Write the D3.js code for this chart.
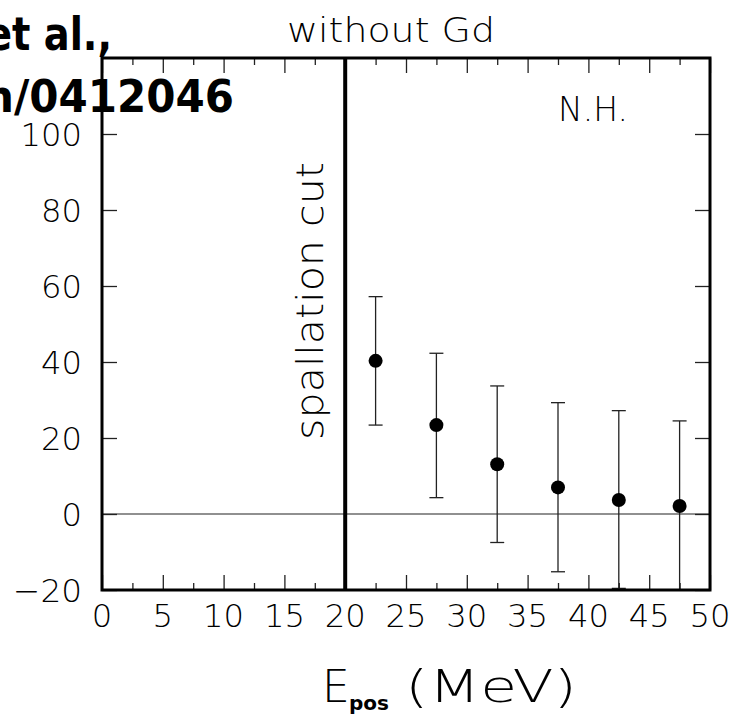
<!doctype html>
<html lang="">
<head>
  <meta charset="utf-8">
  <title>without Gd</title>
  <script src="https://d3js.org/d3.v7.min.js"></script>
  <style>
    body { margin: 0; background: #fff; }
    text { font-family: "DejaVu Sans", sans-serif; fill: #000; }
    .tick-label { font-size: 32px; font-weight: 200; }
  </style>
</head>
<body>
<div id="my_dataviz"></div>
<script>
  // data
  var energies = [22.5, 27.5, 32.5, 37.5, 42.5, 47.5];
  var values   = [40.3, 23.4, 13.1, 7.0, 3.7, 2.1];
  var errLow   = [23.4, 4.3, -7.5, -15.2, -19.8, -25];
  var errHigh  = [57.2, 42.3, 33.7, 29.3, 27.2, 24.5];

  var xTicks = [0, 5, 10, 15, 20, 25, 30, 35, 40, 45, 50];
  var xMinor = [2.5, 7.5, 12.5, 17.5, 22.5, 27.5, 32.5, 37.5, 42.5, 47.5];
  var yTicks = [-20, 0, 20, 40, 60, 80, 100];
  var cutAt = [20];

  // plot frame (note: "top" is taken by window.top, so use m.*)
  var width = 733, height = 716;
  var m = {left: 102, right: 710, top: 58, bottom: 590};

  var svg = d3.select("#my_dataviz")
      .append("svg")
      .attr("width", width)
      .attr("height", height);

  var x = d3.scaleLinear().domain([0, 50]).range([m.left, m.right]);
  var y = d3.scaleLinear().domain([-20, 120]).range([m.bottom, m.top]);

  svg.append("clipPath").attr("id", "frame")
      .append("rect")
      .attr("x", m.left).attr("y", m.top)
      .attr("width", m.right - m.left).attr("height", m.bottom - m.top);

  // ticks: bottom / top (major 15px, minor 7px), left / right
  function noDomain(g) { g.select(".domain").remove(); }
  svg.append("g").attr("transform", "translate(0," + m.bottom + ")")
      .call(d3.axisBottom(x).tickValues(xTicks).tickSize(-15).tickFormat(""))
      .call(noDomain);
  svg.append("g").attr("transform", "translate(0," + m.bottom + ")")
      .call(d3.axisBottom(x).tickValues(xMinor).tickSize(-7).tickFormat(""))
      .call(noDomain);
  svg.append("g").attr("transform", "translate(0," + m.top + ")")
      .call(d3.axisTop(x).tickValues(xTicks).tickSize(-15).tickFormat(""))
      .call(noDomain);
  svg.append("g").attr("transform", "translate(0," + m.top + ")")
      .call(d3.axisTop(x).tickValues(xMinor).tickSize(-7).tickFormat(""))
      .call(noDomain);
  svg.append("g").attr("transform", "translate(" + m.left + ",0)")
      .call(d3.axisLeft(y).tickValues(yTicks).tickSize(-15).tickFormat(""))
      .call(noDomain);
  svg.append("g").attr("transform", "translate(" + m.right + ",0)")
      .call(d3.axisRight(y).tickValues(yTicks).tickSize(-15).tickFormat(""))
      .call(noDomain);
  svg.selectAll(".tick line").attr("stroke", "#222").attr("stroke-width", 1.3);

  // tick labels (wide digits, like the original font)
  function labelLen(s) {
    return s.replace("\u2212", "").length * 20.5 + (s.indexOf("\u2212") >= 0 ? 28 : 0);
  }
  function fmt(d) { return d < 0 ? "\u2212" + Math.abs(d) : String(d); }
  svg.append("g").selectAll("text")
      .data(xTicks).enter().append("text")
      .attr("class", "tick-label")
      .attr("x", d => x(d)).attr("y", m.bottom + 37)
      .attr("text-anchor", "middle")
      .attr("textLength", d => labelLen(fmt(d)))
      .attr("lengthAdjust", "spacingAndGlyphs")
      .text(fmt);
  svg.append("g").selectAll("text")
      .data(yTicks).enter().append("text")
      .attr("class", "tick-label")
      .attr("x", m.left - 20).attr("y", d => y(d) + 12)
      .attr("text-anchor", "end")
      .attr("textLength", d => labelLen(fmt(d)))
      .attr("lengthAdjust", "spacingAndGlyphs")
      .text(fmt);

  // zero line
  svg.append("line")
      .attr("x1", m.left).attr("x2", m.right)
      .attr("y1", y(0)).attr("y2", y(0))
      .attr("stroke", "#222").attr("stroke-width", 1.2);

  // spallation cut
  svg.selectAll(".cut").data(cutAt).enter().append("line")
      .attr("class", "cut")
      .attr("x1", d => x(d)).attr("x2", d => x(d))
      .attr("y1", m.top).attr("y2", m.bottom)
      .attr("stroke", "#000").attr("stroke-width", 4);

  svg.append("text")
      .attr("transform", "translate(323,301) rotate(-90)")
      .attr("text-anchor", "middle")
      .attr("font-size", 38).attr("font-weight", 200)
      .attr("textLength", 278).attr("lengthAdjust", "spacingAndGlyphs")
      .text("spallation cut");

  // error bars + points
  var pts = energies.map((e, i) => ({e: e, v: values[i], lo: errLow[i], hi: errHigh[i]}));
  var g = svg.append("g").attr("clip-path", "url(#frame)");
  g.selectAll(".bar").data(pts).enter().append("line")
      .attr("x1", d => x(d.e)).attr("x2", d => x(d.e))
      .attr("y1", d => y(d.lo)).attr("y2", d => y(d.hi))
      .attr("stroke", "#222").attr("stroke-width", 1.3);
  g.selectAll(".capHi").data(pts).enter().append("line")
      .attr("x1", d => x(d.e) - 7).attr("x2", d => x(d.e) + 7)
      .attr("y1", d => y(d.hi)).attr("y2", d => y(d.hi))
      .attr("stroke", "#222").attr("stroke-width", 1.3);
  g.selectAll(".capLo").data(pts).enter().append("line")
      .attr("x1", d => x(d.e) - 7).attr("x2", d => x(d.e) + 7)
      .attr("y1", d => y(d.lo)).attr("y2", d => y(d.lo))
      .attr("stroke", "#222").attr("stroke-width", d => d.lo < -19 ? 3 : 1.3);
  g.selectAll("circle").data(pts).enter().append("circle")
      .attr("cx", d => x(d.e)).attr("cy", d => y(d.v))
      .attr("r", 7).attr("fill", "#000");

  // frame
  svg.append("rect")
      .attr("x", m.left).attr("y", m.top)
      .attr("width", m.right - m.left).attr("height", m.bottom - m.top)
      .attr("fill", "none").attr("stroke", "#000").attr("stroke-width", 3);

  // titles
  svg.append("text")
      .attr("x", 287).attr("y", 42)
      .attr("font-size", 33).attr("font-weight", 200)
      .attr("textLength", 208).attr("lengthAdjust", "spacingAndGlyphs")
      .text("without Gd");
  svg.append("text")
      .attr("x", 558).attr("y", 121)
      .attr("font-size", 33).attr("font-weight", 200)
      .text("N.H.");

  // x axis label E_pos (MeV)
  svg.append("text")
      .attr("x", 322).attr("y", 702)
      .attr("font-size", 44).attr("font-weight", 200)
      .text("E");
  svg.append("text")
      .attr("x", 349).attr("y", 710)
      .attr("font-size", 20).attr("font-weight", "bold")
      .text("pos");
  svg.append("text")
      .attr("x", 405).attr("y", 702)
      .attr("font-size", 44).attr("font-weight", 200)
      .attr("textLength", 172).attr("lengthAdjust", "spacingAndGlyphs")
      .text("(MeV)");

  // text from the slide behind, cut at the left edge
  svg.append("text")
      .attr("x", -14).attr("y", 50)
      .attr("font-size", 46).attr("font-weight", "bold")
      .attr("textLength", 126).attr("lengthAdjust", "spacingAndGlyphs")
      .text("et al.,");
  svg.append("text")
      .attr("x", 234).attr("y", 112)
      .attr("text-anchor", "end")
      .attr("font-size", 44).attr("font-weight", "bold")
      .attr("textLength", 250).attr("lengthAdjust", "spacingAndGlyphs")
      .text("n/0412046");
</script>
</body>
</html>
